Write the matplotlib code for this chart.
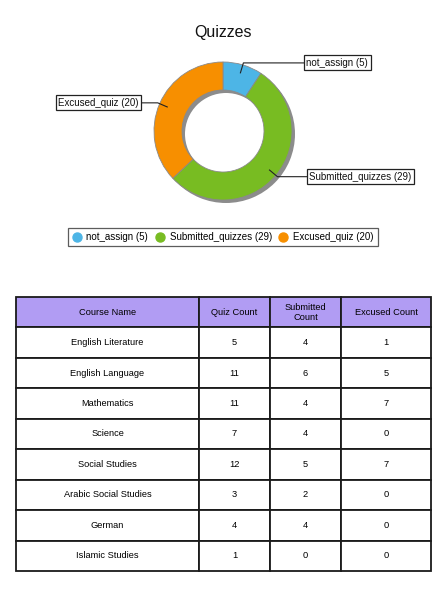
import numpy as np
import matplotlib
matplotlib.use("Agg")
import matplotlib.pyplot as plt
from matplotlib.lines import Line2D
from matplotlib.patches import Wedge

plt.rcParams["font.family"] = ["Liberation Sans", "DejaVu Sans"]

# Dados do gráfico de rosca
labels = ["not_assign", "Submitted_quizzes", "Excused_quiz"]
counts = [5, 29, 20]
colors = ["#4db5e6", "#78bc22", "#f78f00"]

# Dados da tabela
col_labels = ["Course Name", "Quiz Count", "Submitted\nCount", "Excused Count"]
courses = ["English Literature", "English Language", "Mathematics", "Science",
           "Social Studies", "Arabic Social Studies", "German", "Islamic Studies"]
quiz_count = [5, 11, 11, 7, 12, 3, 4, 1]
submitted_count = [4, 6, 4, 4, 5, 2, 4, 0]
excused_count = [1, 5, 7, 0, 7, 0, 0, 0]

W, H = 439, 591
fig = plt.figure(figsize=(W / 100, H / 100), dpi=100)
ax = fig.add_axes([0, 0, 1, 1])

# centro e raio da rosca em pixels (y para cima)
cx, cy, R = 223, H - 131, 69
ring = 28

# sombra cinza deslocada
ax.add_patch(Wedge((cx + 3, cy - 3), R, 0, 360, width=ring,
                   facecolor="#8c8c8c", edgecolor="none"))

wedges, _ = ax.pie(counts, colors=colors, startangle=90, counterclock=False,
                   radius=R, center=(cx, cy),
                   wedgeprops=dict(width=ring, edgecolor="#8a8a8a", linewidth=0.6))

ax.set_xlim(0, W)
ax.set_ylim(0, H)
ax.set_aspect("auto")
ax.axis("off")

ax.text(cx, H - 32, "Quizzes", ha="center", va="center", fontsize=11.5, color="#111")

# rótulos com linhas de chamada
box_edge = {"not_assign": 304, "Submitted_quizzes": 307, "Excused_quiz": 141}
for w, lab, n in zip(wedges, labels, counts):
    ang = np.deg2rad((w.theta1 + w.theta2) / 2)
    px, py = cx + 0.88 * R * np.cos(ang), cy + 0.88 * R * np.sin(ang)
    ex, ey = cx + 1.03 * R * np.cos(ang), cy + 1.03 * R * np.sin(ang)
    bx = box_edge[lab]
    ax.plot([px, ex, bx], [py, ey, ey], color="#222", lw=0.8)
    right = bx > cx
    ax.text(bx + 2.5 if right else bx - 2.5, ey, f"{lab} ({n})",
            ha="left" if right else "right", va="center", fontsize=7, color="#111",
            bbox=dict(boxstyle="square,pad=0.25", facecolor="white",
                      edgecolor="#222", linewidth=0.9))

# legenda
handles = [Line2D([], [], marker="o", linestyle="", markersize=6.5,
                  markerfacecolor=c, markeredgecolor=c) for c in colors]
leg_labels = [f"{l} ({n})" for l, n in zip(labels, counts)]
leg = ax.legend(handles, leg_labels, loc="center", ncol=3,
                bbox_to_anchor=(cx / W, (H - 237) / H), fontsize=7,
                frameon=True, fancybox=False, edgecolor="#333",
                handlelength=0.9, handletextpad=0.55, columnspacing=0.75,
                borderpad=0.45, borderaxespad=0)
leg.get_frame().set_linewidth(0.9)

# tabela
cell_text = [[c, str(q), str(s), str(e)]
             for c, q, s, e in zip(courses, quiz_count, submitted_count, excused_count)]
col_w = np.array([183, 71, 71, 90], dtype=float)
col_w = col_w / col_w.sum()
tx0, tx1, ty0, ty1 = 16, 431, 297, 571
tbl = ax.table(cellText=cell_text, colLabels=col_labels, cellLoc="center",
               colWidths=list(col_w),
               bbox=[tx0 / W, (H - ty1) / H, (tx1 - tx0) / W, (ty1 - ty0) / H])
tbl.auto_set_font_size(False)
tbl.set_fontsize(6.7)
for (r, c), cell in tbl.get_celld().items():
    cell.set_edgecolor("#1a1a1a")
    cell.set_linewidth(1.3)
    cell.get_text().set_color("#000")
    if r == 0:
        cell.set_facecolor("#b19cf3")

fig.savefig("out.png", dpi=100)
